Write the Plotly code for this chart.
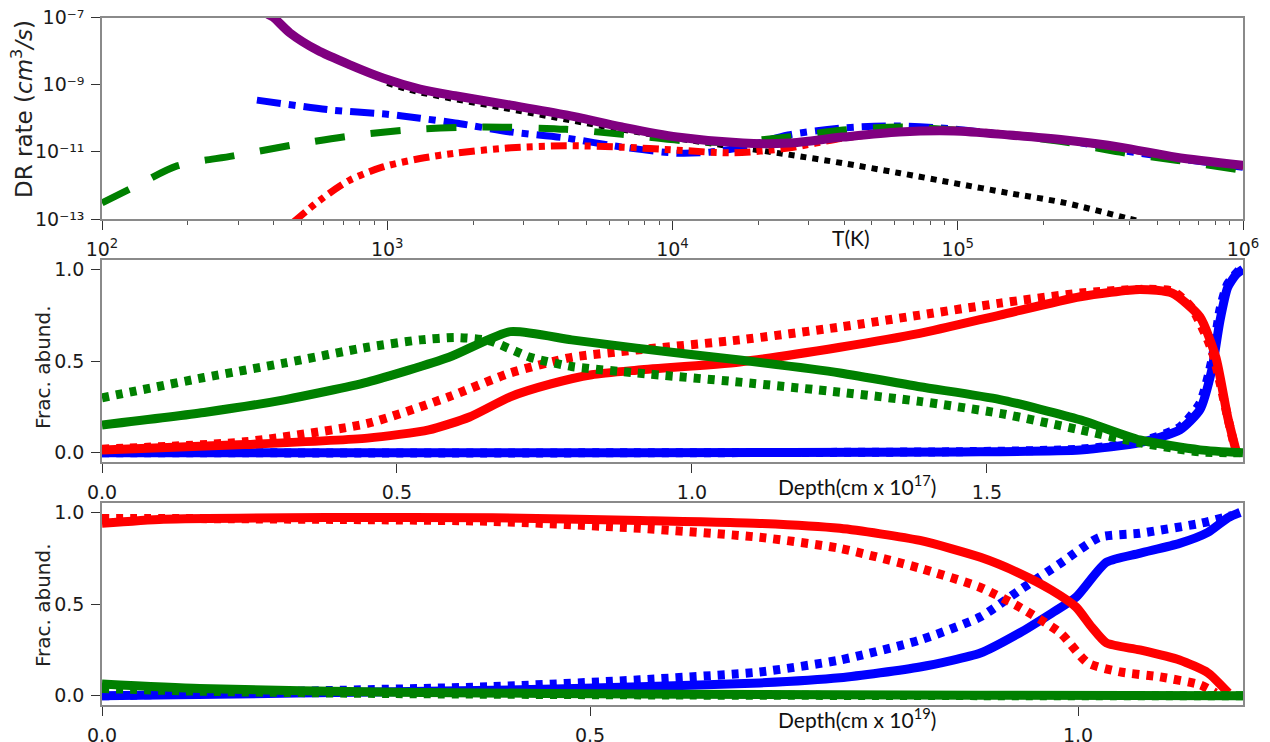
import plotly.graph_objects as go

# ---------------- Top panel: DR rate vs T (log10 values) ----------------
purple_logT = [2.58, 2.60, 2.659, 2.754, 2.869, 2.985, 3.115, 3.238, 3.434, 3.627, 3.823, 4.016,
               4.247, 4.405, 4.598, 4.794, 4.987, 5.180, 5.376, 5.569, 5.765, 6.0]
purple_logR = [-6.9, -6.99, -7.46, -7.97, -8.41, -8.80, -9.13, -9.33, -9.61, -9.90, -10.26, -10.56,
               -10.74, -10.74, -10.56, -10.41, -10.38, -10.50, -10.65, -10.86, -11.16, -11.40]

black_logT = [3.0, 3.1, 3.4, 3.8, 4.016, 4.21, 4.405, 4.598, 4.794, 4.987, 5.18, 5.376, 5.59, 5.65]
black_logR = [-8.95, -9.2, -9.68, -10.3, -10.6, -10.84, -11.08, -11.34, -11.63, -11.93, -12.23, -12.52, -12.97, -13.1]

blue_logT = [2.543, 2.81, 3.0, 3.115, 3.238, 3.434, 3.627, 3.823, 4.016, 4.13, 4.247, 4.405, 4.598,
             4.794, 4.987, 5.18, 5.376, 5.569, 5.765, 6.0]
blue_logR = [-9.46, -9.76, -9.88, -10.0, -10.14, -10.41, -10.59, -10.86, -11.04, -11.01, -10.86, -10.5,
             -10.29, -10.23, -10.32, -10.5, -10.65, -10.95, -11.19, -11.46]

green_logT = [2.0, 2.13, 2.263, 2.46, 2.694, 2.894, 3.115, 3.336, 3.627, 3.823, 4.054, 4.21, 4.405,
              4.598, 4.794, 4.987, 5.18, 5.376, 5.569, 5.765, 6.0]
green_logR = [-12.52, -11.97, -11.42, -11.12, -10.76, -10.5, -10.32, -10.26, -10.33, -10.48, -10.68,
              -10.71, -10.56, -10.35, -10.26, -10.35, -10.5, -10.71, -11.01, -11.25, -11.55]

red_logT = [2.67, 2.764, 2.869, 2.985, 3.115, 3.238, 3.434, 3.627, 3.823, 4.016, 4.21, 4.405, 4.598,
            4.794, 4.987, 5.18, 5.376, 5.569, 5.765, 6.0]
red_logR = [-13.1, -12.44, -11.84, -11.45, -11.2, -11.04, -10.88, -10.82, -10.86, -10.95, -11.03,
            -10.89, -10.59, -10.41, -10.36, -10.48, -10.65, -10.88, -11.17, -11.42]

# ---------------- Middle panel: fractional abundance vs depth (1e17 cm) ----------------
m_green_d = [0, 0.173, 0.311, 0.450, 0.588, 0.692, 0.796, 0.906, 1.081, 1.251, 1.386, 1.522, 1.658, 1.759, 1.861, 1.934]
m_green_f = [0.152, 0.22, 0.29, 0.385, 0.52, 0.66, 0.615, 0.57, 0.505, 0.435, 0.36, 0.29, 0.18, 0.07, 0.016, 0.0]

m_greend_d = [0, 0.173, 0.311, 0.450, 0.540, 0.600, 0.657, 0.726, 0.796, 0.906, 1.081, 1.251, 1.386, 1.522, 1.658, 1.759, 1.861, 1.934]
m_greend_f = [0.30, 0.41, 0.49, 0.575, 0.615, 0.628, 0.610, 0.52, 0.47, 0.435, 0.385, 0.33, 0.28, 0.215, 0.125, 0.055, 0.005, 0.0]

m_red_d = [0, 0.242, 0.45, 0.554, 0.623, 0.692, 0.761, 0.830, 0.906, 1.081, 1.251, 1.386, 1.522, 1.658, 1.759, 1.814, 1.861, 1.888, 1.908, 1.922]
m_red_f = [0.015, 0.045, 0.08, 0.125, 0.195, 0.305, 0.375, 0.425, 0.45, 0.495, 0.575, 0.65, 0.75, 0.85, 0.89, 0.87, 0.74, 0.52, 0.195, 0.015]

m_redd_d = [0, 0.242, 0.45, 0.588, 0.692, 0.796, 0.906, 1.081, 1.251, 1.386, 1.522, 1.658, 1.759, 1.815, 1.847, 1.881, 1.908, 1.922]
m_redd_f = [0.02, 0.06, 0.16, 0.305, 0.435, 0.52, 0.56, 0.615, 0.685, 0.75, 0.815, 0.87, 0.89, 0.88, 0.79, 0.56, 0.195, 0.0]

m_blue_d = [0, 0.9, 1.454, 1.658, 1.759, 1.827, 1.861, 1.881, 1.895, 1.908, 1.922, 1.934]
m_blue_f = [0.0, 0.0, 0.005, 0.015, 0.055, 0.125, 0.235, 0.45, 0.72, 0.9, 0.97, 1.0]

m_blued_d = [0, 0.9, 1.454, 1.658, 1.759, 1.827, 1.861, 1.881, 1.895, 1.908, 1.929]
m_blued_f = [0.0, 0.0, 0.006, 0.02, 0.06, 0.14, 0.27, 0.5, 0.78, 0.92, 1.0]

# ---------------- Bottom panel: fractional abundance vs depth (1e19 cm) ----------------
b_red_d = [0, 0.063, 0.23, 0.4, 0.551, 0.674, 0.756, 0.838, 0.9, 0.94, 0.973, 0.998, 1.014, 1.029, 1.063, 1.104, 1.133, 1.154]
b_red_f = [0.939, 0.962, 0.971, 0.97, 0.955, 0.939, 0.912, 0.846, 0.754, 0.667, 0.575, 0.483, 0.374, 0.288, 0.25, 0.195, 0.125, 0.016]

b_redd_d = [0, 0.1, 0.25, 0.4, 0.551, 0.674, 0.756, 0.838, 0.9, 0.94, 0.982, 1.01, 1.043, 1.084, 1.125, 1.141]
b_redd_f = [0.966, 0.965, 0.96, 0.95, 0.912, 0.863, 0.803, 0.695, 0.59, 0.483, 0.342, 0.179, 0.13, 0.103, 0.06, 0.016]

b_blue_d = [0, 0.2, 0.4, 0.551, 0.674, 0.756, 0.838, 0.9, 0.94, 0.973, 0.998, 1.029, 1.063, 1.104, 1.133, 1.154, 1.166]
b_blue_f = [0.0, 0.015, 0.03, 0.049, 0.07, 0.098, 0.157, 0.233, 0.342, 0.45, 0.537, 0.727, 0.776, 0.83, 0.89, 0.971, 0.998]

b_blued_d = [0, 0.2, 0.4, 0.551, 0.674, 0.756, 0.838, 0.9, 0.94, 0.982, 1.022, 1.063, 1.125, 1.158]
b_blued_f = [0.0, 0.025, 0.05, 0.087, 0.13, 0.195, 0.304, 0.43, 0.575, 0.722, 0.863, 0.885, 0.939, 0.982]

b_green_d = [0, 0.1, 0.3, 0.6, 0.9, 1.169]
b_green_f = [0.065, 0.04, 0.02, 0.008, 0.003, 0.0]

b_greend_d = [0, 0.1, 0.3, 0.6, 0.9, 1.169]
b_greend_f = [0.04, 0.025, 0.012, 0.004, 0.001, 0.0]

# tick labels
top_xticks = [1e2, 1e3, 1e4, 1e5, 1e6]
top_xtext = ["10<sup>2</sup>", "10<sup>3</sup>", "10<sup>4</sup>", "10<sup>5</sup>", "10<sup>6</sup>"]
top_yticks = [1e-13, 1e-11, 1e-9, 1e-7]
top_ytext = ["10\u207b\u00b9\u00b3", "10\u207b\u00b9\u00b9", "10\u207b\u2079", "10\u207b\u2077"]
mid_xticks = [0.0, 0.5, 1.0, 1.5]
bot_xticks = [0.0, 0.5, 1.0]
frac_yticks = [0.0, 0.5, 1.0]

RED, GREEN, BLUE, PURPLE, BLACK = "#ff0000", "#008000", "#0000ff", "#800080", "#000000"

fig = go.Figure()

def add(x, y, color, width, dash, xa, ya, smoothing=0.8):
    fig.add_trace(go.Scatter(x=x, y=y, mode="lines",
                             line=dict(color=color, width=width, dash=dash, shape="spline", smoothing=smoothing),
                             xaxis=xa, yaxis=ya, showlegend=False, hoverinfo="skip"))

def p10(a):
    return [10 ** v for v in a]

DOT = "7px,7px"
# top panel
add(p10(black_logT), p10(black_logR), BLACK, 6, "6px,6px", "x", "y")
add(p10(blue_logT), p10(blue_logR), BLUE, 7, "24px,8px,7px,8px", "x", "y")
add(p10(green_logT), p10(green_logR), GREEN, 7, "30px,26px", "x", "y")
add(p10(red_logT), p10(red_logR), RED, 7, "16px,6px,6px,6px,6px,6px", "x", "y")
add(p10(purple_logT), p10(purple_logR), PURPLE, 9, "solid", "x", "y")

# middle panel
add(m_blue_d, m_blue_f, BLUE, 9, "solid", "x2", "y2", 0.6)
add(m_blued_d, m_blued_f, BLUE, 9, DOT, "x2", "y2", 0.6)
add(m_red_d, m_red_f, RED, 9, "solid", "x2", "y2", 0.6)
add(m_redd_d, m_redd_f, RED, 9, DOT, "x2", "y2", 0.6)
add(m_green_d, m_green_f, GREEN, 9, "solid", "x2", "y2", 0.6)
add(m_greend_d, m_greend_f, GREEN, 9, DOT, "x2", "y2", 0.6)

# bottom panel
add(b_blue_d, b_blue_f, BLUE, 9, "solid", "x3", "y3", 0.6)
add(b_blued_d, b_blued_f, BLUE, 9, DOT, "x3", "y3", 0.6)
add(b_red_d, b_red_f, RED, 9, "solid", "x3", "y3", 0.6)
add(b_redd_d, b_redd_f, RED, 9, DOT, "x3", "y3", 0.6)
add(b_greend_d, b_greend_f, GREEN, 9, DOT, "x3", "y3", 0.6)
add(b_green_d, b_green_f, GREEN, 9, "solid", "x3", "y3", 0.6)

# page is 1270x742; the html body adds an 8px margin, so the figure starts 8px in
OFF = 8
W, H = 1270 - OFF, 742 - OFF

def px(x):
    return (x - OFF) / W

def py(y):
    return 1 - (y - OFF) / H

xdom = [px(102), px(1243)]
tickfont = dict(family="DejaVu Sans", size=19, color="#1a1a1a")
common = dict(showline=True, mirror=True, linecolor="#8a8a8a", linewidth=1.5, ticks="outside",
              ticklen=9, tickwidth=1.3, tickcolor="#333333", showgrid=False, zeroline=False,
              tickfont=tickfont, automargin=False, ticklabelstandoff=3, ticklabeloverflow="allow")

def ydom(top_px, bot_px):
    return [py(bot_px), py(top_px)]

minor_vals = [m * 10 ** e for e in range(2, 6) for m in range(2, 10)]

fig.update_layout(
    width=W, height=H, autosize=False, margin=dict(l=0, r=0, t=0, b=0, pad=0),
    paper_bgcolor="white", plot_bgcolor="white",
    xaxis=dict(domain=xdom, anchor="y", type="log", range=[2, 6], tickmode="array",
               tickvals=top_xticks, ticktext=top_xtext,
               minor=dict(tickmode="array", tickvals=minor_vals, ticks="outside", ticklen=4,
                          tickcolor="#555555", showgrid=False), **common),
    yaxis=dict(domain=ydom(17.5, 219), anchor="x", type="log", range=[-13, -7], tickmode="array",
               tickvals=top_yticks, ticktext=top_ytext, **common),
    xaxis2=dict(domain=xdom, anchor="y2", range=[0, 1.934], tickmode="array", tickvals=mid_xticks,
                ticktext=[f"{v:.1f}" for v in mid_xticks], **common),
    yaxis2=dict(domain=ydom(260, 462), anchor="x2", range=[-0.05, 1.05], tickmode="array",
                tickvals=frac_yticks, ticktext=[f"{v:.1f}" for v in frac_yticks], **common),
    xaxis3=dict(domain=xdom, anchor="y3", range=[0, 1.169], tickmode="array", tickvals=bot_xticks,
                ticktext=[f"{v:.1f}" for v in bot_xticks], **common),
    yaxis3=dict(domain=ydom(503, 705), anchor="x3", range=[-0.05, 1.05], tickmode="array",
                tickvals=frac_yticks, ticktext=[f"{v:.1f}" for v in frac_yticks], **common),
)

lab_font = dict(family="Lato", size=21, color="#111111")
ytitle_font = dict(family="DejaVu Sans", size=20, color="#222222")
annots = [
    dict(text="T(K)", x=px(851), y=py(237), font=lab_font),
    dict(text="Depth(cm x 10<sup>17</sup>)", x=px(857), y=py(485), font=lab_font),
    dict(text="Depth(cm x 10<sup>19</sup>)", x=px(857), y=py(718), font=lab_font),
    dict(text="DR rate (<i>cm</i><sup>3</sup><i>/s</i>)", x=px(22), y=py(109),
         font=dict(family="DejaVu Sans", size=23, color="#222222"), textangle=-90),
    dict(text="Frac. abund.", x=px(43), y=py(367), font=ytitle_font, textangle=-90),
    dict(text="Frac. abund.", x=px(43), y=py(605), font=ytitle_font, textangle=-90),
]
for a in annots:
    fig.add_annotation(xref="paper", yref="paper", showarrow=False, xanchor="center", yanchor="middle", **a)

fig.write_html("out.html")
